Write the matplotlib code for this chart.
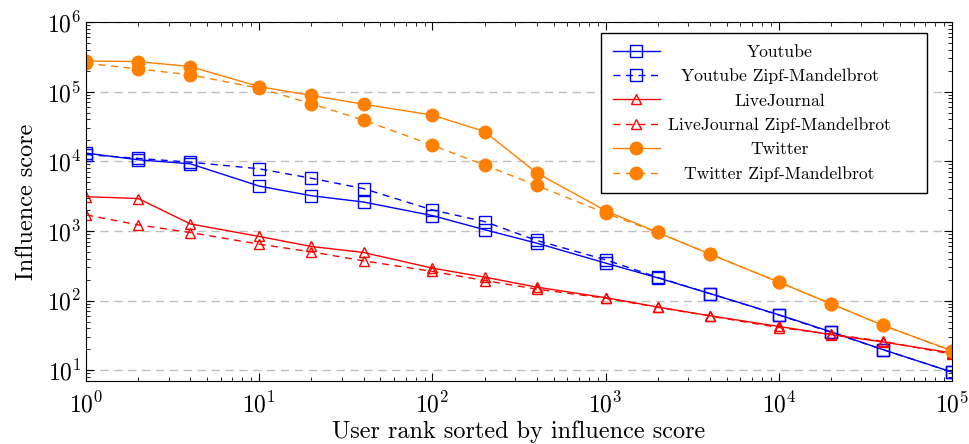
import numpy as np
import matplotlib
matplotlib.use('Agg')
import matplotlib.pyplot as plt

# data
rank = [1, 2, 4, 10, 20, 40, 100, 200, 400, 1000, 2000, 4000, 10000, 20000, 40000, 100000]

youtube = [1.31e4, 1.05e4, 9.2e3, 4.4e3, 3.2e3, 2.6e3, 1.66e3, 1.04e3, 668, 345, 212, 126, 62.5, 35.6, 19.7, 9.4]
youtube_zm = [1.25e4, 1.1e4, 9.7e3, 7.8e3, 5.7e3, 4.05e3, 2.0e3, 1.36e3, 730, 385, 215, 126, 62, 35, 19.7, 9.4]

livejournal = [3.1e3, 2.92e3, 1.26e3, 832, 598, 490, 292, 217, 156, 110, 80.7, 60.5, 42.5, 32.4, 25.4, 17.7]
livejournal_zm = [1.7e3, 1.22e3, 948, 645, 500, 372, 262, 194, 146, 108, 80, 60, 41, 33, 26, 17]

twitter = [2.75e5, 2.7e5, 2.29e5, 1.18e5, 8.8e4, 6.6e4, 4.6e4, 2.67e4, 6.8e3, 1.95e3, 950, 465, 184, 90, 44, 19]
twitter_zm = [2.55e5, 2.12e5, 1.74e5, 1.12e5, 6.7e4, 3.9e4, 1.7e4, 8.8e3, 4.5e3, 1.8e3, 950, 465, 184, 90, 44, 19]

plt.rcParams['font.family'] = 'cmr10'
plt.rcParams['mathtext.fontset'] = 'cm'
plt.rcParams['axes.formatter.use_mathtext'] = True

blue = (0, 0, 1)
red = (1, 0, 0)
orange = (1, 0.5, 0)

fig = plt.figure(figsize=(9.69, 4.44), dpi=100)
ax = fig.add_axes([0.0888, 0.1419, 0.8937, 0.8086])

ax.plot(rank, youtube, '-', color=blue, lw=1, marker='s', ms=8.5, mfc='none', mew=1, label='Youtube')
ax.plot(rank, youtube_zm, '--', color=blue, lw=1, dashes=(5, 4), marker='s', ms=8.5, mfc='none', mew=1,
        label='Youtube Zipf-Mandelbrot')
ax.plot(rank, livejournal, '-', color=red, lw=1, marker='^', ms=7.5, mfc='none', mew=1, label='LiveJournal')
ax.plot(rank, livejournal_zm, '--', color=red, lw=1, dashes=(5, 4), marker='^', ms=7.5, mfc='none', mew=1,
        label='LiveJournal Zipf-Mandelbrot')
ax.plot(rank, twitter, '-', color=orange, lw=1, marker='o', ms=9, label='Twitter')
ax.plot(rank, twitter_zm, '--', color=orange, lw=1, dashes=(5, 4), marker='o', ms=9,
        label='Twitter Zipf-Mandelbrot')

ax.set_xscale('log')
ax.set_yscale('log')
ax.set_xlim(1, 1e5)
ax.set_ylim(7, 1e6)

ax.yaxis.grid(True, which='major', color='#bfbfbf', ls=(0, (6, 4)), lw=1)
ax.set_axisbelow(True)

ax.tick_params(which='both', direction='in', top=True, right=True, labelsize=17)
ax.tick_params(which='major', length=6)
ax.tick_params(which='minor', length=3)
ax.xaxis.set_minor_locator(matplotlib.ticker.LogLocator(base=10, subs=np.arange(2, 10), numticks=20))
ax.yaxis.set_minor_locator(matplotlib.ticker.LogLocator(base=10, subs=np.arange(2, 10), numticks=20))
ax.xaxis.set_minor_formatter(matplotlib.ticker.NullFormatter())
ax.yaxis.set_minor_formatter(matplotlib.ticker.NullFormatter())
ax.tick_params(axis='x', pad=8)

ax.set_xlabel('User rank sorted by influence score', fontsize=17.5, labelpad=2)
ax.set_ylabel('Influence score', fontsize=17.5, labelpad=6)

# wide legend box, entries centred like the pgfplots legend
leg = ax.legend(loc='upper left', bbox_to_anchor=(0.5947, 0.5237, 0.3764, 0.4457), mode='expand',
                borderaxespad=0, fontsize=12.7, fancybox=False, edgecolor='black', framealpha=1,
                handlelength=2.7, handletextpad=0.45, borderpad=0.65, labelspacing=0.5)
leg.get_frame().set_linewidth(1)

fig.canvas.draw()
renderer = fig.canvas.get_renderer()
widths = [t.get_window_extent(renderer).width for t in leg.get_texts()]
wmax = max(widths)
for t, w in zip(leg.get_texts(), widths):
    t.set_x((wmax - w) / 2)

fig.savefig('out.png', dpi=100)
